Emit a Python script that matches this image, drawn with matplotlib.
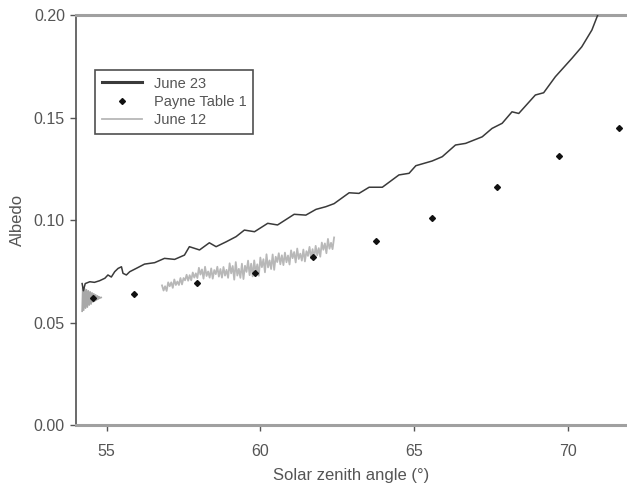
import numpy as np
import matplotlib
matplotlib.use("Agg")
import matplotlib.pyplot as plt

plt.rcParams['font.family'] = ['Liberation Sans', 'DejaVu Sans']

# ---- data ----
june23_angle = [54.20, 54.24, 54.30, 54.45, 54.60, 54.77, 54.94, 55.04, 55.15, 55.26,
                55.37, 55.48, 55.53, 55.64, 55.75, 55.96, 56.23, 56.56, 56.88, 57.21,
                57.53, 57.69, 57.96, 58.02, 58.34, 58.56, 58.89, 59.21, 59.48, 59.81,
                60.24, 60.56, 61.10, 61.48, 61.81, 62.13, 62.40, 62.89, 63.21, 63.54,
                63.97, 64.51, 64.84, 65.06, 65.59, 65.92, 66.35, 66.68, 67.22, 67.54,
                67.87, 68.19, 68.41, 68.95, 69.22, 69.60, 70.14, 70.46, 70.79, 70.98]
june23_albedo = [0.0690, 0.0655, 0.0690, 0.0699, 0.0696, 0.0704, 0.0716, 0.0732, 0.0722, 0.0748,
                 0.0764, 0.0772, 0.0740, 0.0732, 0.0748, 0.0764, 0.0785, 0.0792, 0.0813, 0.0808,
                 0.0829, 0.0870, 0.0857, 0.0854, 0.0889, 0.0870, 0.0894, 0.0919, 0.0951, 0.0943,
                 0.0984, 0.0976, 0.1028, 0.1024, 0.1052, 0.1065, 0.1080, 0.1133, 0.1130, 0.1160,
                 0.1160, 0.1220, 0.1228, 0.1265, 0.1288, 0.1309, 0.1366, 0.1374, 0.1406, 0.1447,
                 0.1472, 0.1528, 0.1520, 0.1610, 0.1621, 0.1699, 0.1789, 0.1845, 0.1927, 0.2000]

payne_angle = [54.55, 55.88, 57.95, 59.84, 61.72, 63.77, 65.58, 67.69, 69.71, 71.66]
payne_albedo = [0.0620, 0.0639, 0.0693, 0.0741, 0.0820, 0.0898, 0.1010, 0.1160, 0.1310, 0.1450]

# June 12, first short segment (dense, wide scatter)
june12a_angle = [54.20, 54.22, 54.25, 54.28, 54.31, 54.34, 54.37, 54.40, 54.43, 54.46, 54.49,
                 54.52, 54.55, 54.58, 54.61, 54.64, 54.67, 54.70, 54.73, 54.76, 54.79, 54.82]
june12a_albedo = [0.0555, 0.0670, 0.0560, 0.0665, 0.0570, 0.0660, 0.0575, 0.0655, 0.0585, 0.0650, 0.0590,
                  0.0645, 0.0600, 0.0640, 0.0605, 0.0635, 0.0610, 0.0630, 0.0615, 0.0625, 0.0620, 0.0622]

# June 12, main segment, sampled every 0.05 degree from 56.80 to 62.40
june12b_start, june12b_stop = 56.80, 62.40
june12b_albedo = [
    0.0681, 0.0656, 0.0677, 0.0654, 0.0696, 0.0677, 0.0696, 0.0669, 0.0710, 0.0683,
    0.0700, 0.0683, 0.0717, 0.0686, 0.0717, 0.0706, 0.0733, 0.0704, 0.0731, 0.0706,
    0.0744, 0.0719, 0.0740, 0.0717, 0.0767, 0.0734, 0.0759, 0.0714, 0.0772, 0.0727,
    0.0749, 0.0719, 0.0764, 0.0714, 0.0756, 0.0736, 0.0772, 0.0724, 0.0761, 0.0719,
    0.0771, 0.0729, 0.0757, 0.0718, 0.0789, 0.0740, 0.0776, 0.0709, 0.0795, 0.0729,
    0.0762, 0.0718, 0.0787, 0.0712, 0.0777, 0.0747, 0.0802, 0.0731, 0.0787, 0.0725,
    0.0803, 0.0742, 0.0784, 0.0728, 0.0817, 0.0770, 0.0809, 0.0745, 0.0833, 0.0769,
    0.0803, 0.0761, 0.0832, 0.0757, 0.0821, 0.0795, 0.0838, 0.0784, 0.0828, 0.0780,
    0.0841, 0.0794, 0.0827, 0.0783, 0.0852, 0.0814, 0.0844, 0.0793, 0.0861, 0.0810,
    0.0836, 0.0802, 0.0856, 0.0798, 0.0848, 0.0825, 0.0869, 0.0814, 0.0858, 0.0812,
    0.0874, 0.0828, 0.0863, 0.0821, 0.0890, 0.0855, 0.0886, 0.0838, 0.0908, 0.0860,
    0.0889, 0.0858, 0.0915]
june12b_angle = np.linspace(june12b_start, june12b_stop, len(june12b_albedo))

x_ticks = [55, 60, 65, 70]
y_ticks = [0.00, 0.05, 0.10, 0.15, 0.20]

# ---- figure ----
fig = plt.figure(figsize=(6.27, 4.86), dpi=100)
ax = fig.add_axes([0.1212, 0.1255, 0.8772, 0.8435])

c23 = '#3a3a3a'
c12 = '#b8b8b8'
ax.plot(june12a_angle, june12a_albedo, color='#a8a8a8', lw=1.2, zorder=2)
ax.plot(june12b_angle, june12b_albedo, color=c12, lw=1.3, zorder=2, label='June 12')
ax.plot(june23_angle, june23_albedo, color=c23, lw=1.1, zorder=3, label='June 23')
ax.plot(payne_angle, payne_albedo, linestyle='none', marker='D', markersize=3.0,
        color='#111111', zorder=4, label='Payne Table 1')

ax.set_xlim(54.0, 71.9)
ax.set_ylim(0.0, 0.20)
ax.set_xticks(x_ticks)
ax.set_yticks(y_ticks)
ax.set_yticklabels([f'{v:.2f}' for v in y_ticks])

tc = '#555555'
ax.tick_params(axis='both', direction='out', length=4.5, width=1.0, colors=tc,
               labelsize=11.5, labelcolor=tc)
ax.tick_params(axis='x', pad=9)
ax.set_xlabel('Solar zenith angle (°)', fontsize=12, color=tc, labelpad=7)
ax.set_ylabel('Albedo', fontsize=12, color=tc, labelpad=6)

ax.spines['right'].set_visible(False)
ax.spines['left'].set_color('#505050')
ax.spines['left'].set_linewidth(1.2)
for s in ('top', 'bottom'):
    ax.spines[s].set_color('#a0a0a0')
    ax.spines[s].set_linewidth(2.2)

h, l = ax.get_legend_handles_labels()
order = [l.index('June 23'), l.index('Payne Table 1'), l.index('June 12')]
leg = ax.legend([h[i] for i in order], [l[i] for i in order],
                loc='upper left', bbox_to_anchor=(0.0345, 0.866), borderaxespad=0,
                fontsize=10.5, frameon=True, fancybox=False, handlelength=2.8,
                handletextpad=0.8, borderpad=0.45, labelspacing=0.3)
leg.get_frame().set_edgecolor('#222222')
leg.get_frame().set_linewidth(1.2)
for t in leg.get_texts():
    t.set_color(tc)
leg.get_lines()[0].set_linewidth(2.2)
leg.get_lines()[2].set_linewidth(1.3)

fig.savefig('out.png', dpi=100)
